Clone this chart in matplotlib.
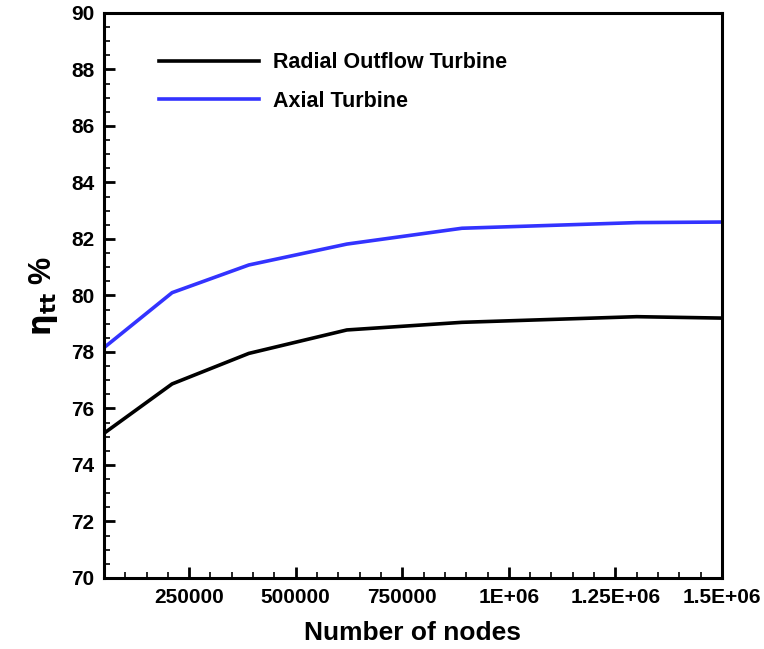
import matplotlib
matplotlib.use('Agg')
import matplotlib.pyplot as plt
from matplotlib.ticker import MultipleLocator, FixedLocator

nodes = [50000, 210000, 390000, 620000, 890000, 1300000, 1500000]
radial_eff = [75.12, 76.87, 77.95, 78.78, 79.05, 79.25, 79.2]
axial_eff = [78.15, 80.1, 81.08, 81.82, 82.38, 82.58, 82.6]

x_ticks = [250000, 500000, 750000, 1000000, 1250000, 1500000]
x_tick_labels = ['250000', '500000', '750000', '1E+06', '1.25E+06', '1.5E+06']

plt.rcParams['font.family'] = ['Liberation Sans', 'DejaVu Sans']
plt.rcParams['font.weight'] = 'bold'

fig = plt.figure(figsize=(7.64, 6.49), dpi=100)
ax = fig.add_axes([0.136, 0.1094, 0.809, 0.8706])

ax.plot(nodes, radial_eff, color='black', lw=2.6, label='Radial Outflow Turbine')
ax.plot(nodes, axial_eff, color='#3333ff', lw=2.6, label='Axial Turbine')

ax.set_xlim(50000, 1500000)
ax.set_ylim(70, 90)
ax.xaxis.set_major_locator(FixedLocator(x_ticks))
ax.set_xticklabels(x_tick_labels)
ax.xaxis.set_minor_locator(MultipleLocator(50000))
ax.yaxis.set_major_locator(MultipleLocator(2))
ax.yaxis.set_minor_locator(MultipleLocator(0.5))

for s in ax.spines.values():
    s.set_linewidth(2.2)
ax.tick_params(which='both', direction='in', top=False, right=False, width=2)
ax.tick_params(which='major', length=8, labelsize=15, pad=7)
ax.tick_params(which='minor', length=4, width=1.2)
for lab in ax.get_xticklabels() + ax.get_yticklabels():
    lab.set_fontweight('bold')

ax.set_xlabel('Number of nodes', fontsize=19, fontweight='bold', labelpad=10)
ax.set_ylabel(r'$\mathbf{\eta_{tt}}$ %', fontsize=22, fontweight='bold', labelpad=8)

ax.legend(loc='upper left', bbox_to_anchor=(0.057, 0.965), frameon=False,
          handlelength=4.65, handletextpad=0.65, labelspacing=0.83,
          prop={'weight': 'bold', 'size': 15.5})

fig.savefig('out.png', dpi=100)
